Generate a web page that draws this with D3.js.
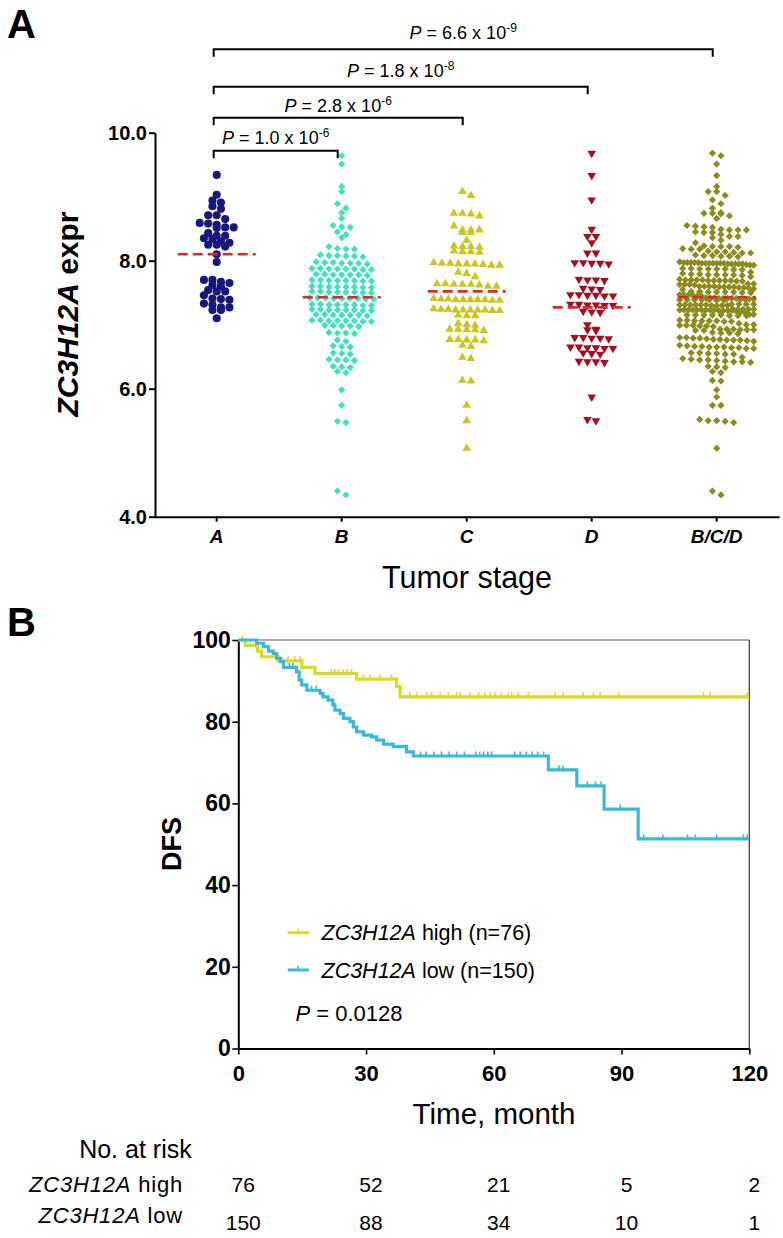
<!DOCTYPE html>
<html><head><meta charset="utf-8">
<script src="https://cdn.jsdelivr.net/npm/d3@7"></script>
<style>
body{margin:0;background:#fff;}
svg{display:block;font-family:"Liberation Sans",Arial,Helvetica,sans-serif;}
</style></head><body>
<svg id="c" width="783" height="1238"></svg>
<script>
// ---------------- DATA ----------------
const stages = ["A","B","C","D","B/C/D"];
const exprA = [9.34,9.03,8.94,8.91,8.85,8.81,8.71,8.71,8.65,8.59,8.58,8.56,8.52,8.51,8.52,8.43,8.39,8.39,8.35,8.34,8.30,8.28,8.25,8.25,8.22,8.10,7.98,7.70,7.70,7.67,7.65,7.62,7.60,7.54,7.52,7.52,7.46,7.41,7.40,7.39,7.33,7.31,7.27,7.27,7.23,7.23,7.10];
const exprB = [9.64,9.51,9.16,9.08,8.89,8.82,8.75,8.66,8.55,8.53,8.52,8.45,8.41,8.36,
 8.22,8.19,8.18,8.18,
 8.09,8.08,8.07,8.07,8.06,8.08,
 7.98,7.97,7.96,7.96,7.95,7.96,7.97,
 7.88,7.87,7.87,7.86,7.87,7.88,7.86,7.87,
 7.79,7.78,7.78,7.77,7.78,7.79,7.78,
 7.70,7.69,7.69,7.68,7.69,7.70,7.69,7.68,
 7.60,7.59,7.59,7.58,7.59,7.60,7.59,7.58,
 7.52,7.51,7.51,7.50,7.51,7.52,7.51,7.50,
 7.42,7.41,7.41,7.40,7.41,7.42,7.41,7.40,7.42,
 7.32,7.31,7.31,7.30,7.31,7.32,7.31,7.30,
 7.24,7.23,7.23,7.22,7.23,7.24,7.23,7.22,
 7.16,7.15,7.15,7.14,7.15,7.16,7.15,
 7.07,7.06,7.06,7.05,7.06,7.07,7.06,7.05,
 6.99,6.98,6.97,6.98,6.99,
 6.88,6.87,6.87,6.86,
 6.76,6.74,
 6.67,6.66,6.65,
 6.56,6.55,6.54,
 6.46,6.45,6.44,6.45,
 6.35,6.34,6.33,
 6.27,6.25,
 5.98,5.74,5.49,5.47,4.40,4.34];
const exprC = [9.08,9.02,
 8.74,8.74,8.73,8.70,
 8.54,8.48,8.48,8.48,8.44,8.44,
 8.32,
 8.23,8.22,8.21,8.22,
 8.15,8.14,8.13,8.14,
 7.96,7.95,7.94,7.93,7.95,7.96,7.95,7.97,7.93,
 7.82,7.80,7.75,
 7.64,7.63,7.63,7.62,7.63,7.64,7.60,7.60,
 7.40,7.39,7.39,7.38,7.39,7.40,7.39,7.38,7.39,7.41,
 7.24,7.23,7.23,7.22,7.23,7.24,7.23,7.22,7.23,7.25,
 7.15,7.14,7.14,
 7.02,7.00,6.99,
 6.93,6.92,6.91,6.92,6.93,
 6.77,6.76,6.75,6.76,6.77,
 6.68,6.66,
 6.49,6.47,
 6.13,6.12,
 5.74,5.50,5.07];
const exprD = [9.68,9.33,8.95,8.49,8.38,8.38,8.28,8.12,8.12,
 7.97,7.96,7.95,7.96,7.97,
 7.71,7.70,7.69,7.70,
 7.57,7.56,7.55,
 7.47,7.46,7.45,7.46,7.47,7.45,
 7.32,7.31,7.30,7.31,7.32,7.30,
 7.21,7.20,7.19,
 7.00,
 6.93,6.92,6.91,
 6.80,6.79,6.78,6.79,6.80,
 6.65,6.64,6.63,6.64,6.65,6.63,
 6.56,6.55,6.54,
 6.43,6.42,6.41,6.42,
 5.87,5.52,5.50];
const exprBCD = exprB.concat(exprC, exprD); // pooled stages B, C and D
const medians = [8.10,7.43,7.52,7.27,7.43];
const yTicksA = [4,6,8,10];
const compareTo = ["B","C","D","B/C/D"];
const pMantissa = ["1.0","2.8","1.8","6.6"];
const pExponent = ["-6","-6","-8","-9"];

// Kaplan-Meier (time in months, DFS %)
const highTimes = [0,1.7,4.5,5.5,9.4,14.9,18.0,27.8,37.2,38.0,120];
const highSurv  = [100,98.7,97.3,95.9,94.9,93.3,91.8,90.4,88.6,86.1,86.1];
const highCensor = [1.0,11.7,13.3,14.5,21.9,22.7,23.5,24.7,25.5,26.6,29.4,30.9,33.3,36.0,40.3,41.9,44.2,45.4,47.4,49.3,51.3,52.1,54.4,56.4,57.9,59.1,60.3,61.8,63.4,64.2,65.7,68.1,74.4,76.3,81.0,83.4,85.0,89.3,109.2,110.8,119.5];
const lowTimes = [0,4.3,5.9,7.1,8.2,9.0,9.9,10.6,13.7,14.3,14.9,16.1,19.2,19.9,21.1,22.2,22.7,23.9,24.7,26.2,27.0,27.8,29.4,31.3,32.5,34.1,36.4,39.5,41.1,72.8,79.5,85.9,93.9,120];
const lowSurv  = [100,99.2,98.4,97.3,96.7,95.5,94.7,93.3,92.2,90.2,89.0,87.7,86.9,86.1,85.3,84.1,82.8,82.0,80.8,80.0,78.7,77.5,76.7,76.3,75.5,74.5,73.9,72.6,71.6,68.2,64.3,58.6,51.3,51.3];
const lowCensor = [12.0,12.8,17.2,18.3,42.8,44.1,45.9,47.7,49.5,51.3,53.1,55.8,56.7,57.6,58.6,59.5,64.9,66.2,67.6,69.0,70.3,71.7,75.3,76.2,82.0,83.9,85.2,89.7,95.2,99.7,105.5,107.3,112.3,118.6,119.5];
const xTicksB = [0,30,60,90,120];
const yTicksB = [0,20,40,60,80,100];
const riskTimes = [0,30,60,90,120];
const riskHigh = [76,52,21,5,2];
const riskLow = [150,88,34,10,1];
const legendLabels = [" high (n=76)"," low (n=150)"];
const pLogRank = "0.0128";

// ---------------- DRAW ----------------
const svg = d3.select("#c");
const colA = ["#17177c","#40e2bc","#cbc61e","#a30f20","#8c8b1b"];
const kmHigh = "#d6dc1e", kmLow = "#38b9d8";

// panel labels
svg.append("text").attr("x",7).attr("y",38).attr("font-size",40).attr("font-weight","bold").text("A");
svg.append("text").attr("x",7).attr("y",636).attr("font-size",40).attr("font-weight","bold").text("B");

// ===== Panel A =====
const xA = d3.scaleBand().domain(stages).range([154.2,779.2]);
const yA = d3.scaleLinear().domain([4,10]).range([516.7,132.7]);
const cx = s => xA(s) + xA.bandwidth()/2;

const gyA = svg.append("g").attr("transform","translate(155,0)")
  .call(d3.axisLeft(yA).tickValues(yTicksA).tickFormat(d3.format(".1f")).tickSize(6).tickSizeOuter(0).tickPadding(2));
gyA.select(".domain").attr("stroke","#000").attr("stroke-width",2);
gyA.selectAll(".tick line").attr("stroke","#000").attr("stroke-width",2);
gyA.selectAll(".tick text").attr("font-size",20).attr("font-weight","bold").attr("fill","#000")
  .attr("font-family",'"Liberation Sans",Arial,sans-serif');

const gxA = svg.append("g").attr("transform","translate(0,516.7)")
  .call(d3.axisBottom(xA).tickSize(5).tickSizeOuter(0).tickPadding(8));
gxA.select(".domain").attr("stroke","#000").attr("stroke-width",2);
gxA.selectAll(".tick line").attr("stroke","#000").attr("stroke-width",2);
gxA.selectAll(".tick text").attr("font-size",19).attr("font-weight","bold").attr("font-style","italic").attr("fill","#000")
  .attr("font-family",'"Liberation Sans",Arial,sans-serif');

svg.append("text").attr("x",467).attr("y",588).attr("text-anchor","middle").attr("font-size",30.5).text("Tumor stage");

const yt = svg.append("text").attr("transform","translate(78,314) rotate(-90)").attr("text-anchor","middle")
  .attr("font-size",30).attr("font-weight","bold");
yt.append("tspan").attr("font-style","italic").text("ZC3H12A");
yt.append("tspan").text(" expr");

// swarm layout
function swarm(vals, c, maxWidth, spacing){
  const sorted = vals.slice().sort((a,b)=>b-a);
  const rows=[]; let cur=null;
  sorted.forEach(v=>{
    if(!cur || (yA(v)-yA(cur[0]))>4.5){cur=[v];rows.push(cur);} else cur.push(v);
  });
  const pts=[];
  rows.forEach(r=>{
    const n=r.length;
    const sp = n>1 ? Math.min(spacing, maxWidth/(n-1)) : 0;
    r.forEach((v,i)=>pts.push({v, x:c+(i-(n-1)/2)*sp}));
  });
  return pts;
}
const groups = [exprA, exprB, exprC, exprD, exprBCD];
const maxW = [46,64,66,46,74];
const shapes = [
  d3.symbol().type(d3.symbolCircle).size(52)(),
  d3.symbol().type(d3.symbolSquare).size(26)(),
  d3.symbol().type(d3.symbolTriangle).size(32)(),
  d3.symbol().type(d3.symbolTriangle).size(32)(),
  d3.symbol().type(d3.symbolSquare).size(26)()
];
const rot = [0,45,0,180,45];
groups.forEach((vals,gi)=>{
  const pts = swarm(vals, cx(stages[gi]), maxW[gi], 8.5);
  svg.append("g").selectAll("path").data(pts).join("path")
    .attr("d", shapes[gi])
    .attr("transform", d=>`translate(${d.x},${yA(d.v)}) rotate(${rot[gi]})`)
    .attr("fill", colA[gi]);
});
// medians
svg.append("g").selectAll("line").data(medians).join("line")
  .attr("x1",(d,i)=>cx(stages[i])-39).attr("x2",(d,i)=>cx(stages[i])+39)
  .attr("y1",d=>yA(d)).attr("y2",d=>yA(d))
  .attr("stroke","#e3262e").attr("stroke-width",2.6).attr("stroke-dasharray","10,5");

// significance brackets
const brY = [150.7,117.7,86.7,49.3];
const lbY = [144,111.7,77.3,39.3];
compareTo.forEach((s,i)=>{
  const x1 = cx("A")-3, x2 = cx(s)-4;
  svg.append("path").attr("d",`M${x1},${brY[i]+7.5}V${brY[i]}H${x2}V${brY[i]+7.5}`)
    .attr("fill","none").attr("stroke","#000").attr("stroke-width",2);
  const t = svg.append("text").attr("x",(x1+x2)/2).attr("y",lbY[i]).attr("text-anchor","middle").attr("font-size",18);
  t.append("tspan").attr("font-style","italic").text("P");
  t.append("tspan").text(" = "+pMantissa[i]+" x 10");
  t.append("tspan").attr("font-size",12).attr("dy",-7).text(pExponent[i]);
});

// ===== Panel B =====
const xB = d3.scaleLinear().domain([0,120]).range([238.3,749.3]);
const yB = d3.scaleLinear().domain([0,100]).range([1048.5,640]);

svg.append("line").attr("x1",xB(0)).attr("x2",xB(120)).attr("y1",yB(100)).attr("y2",yB(100)).attr("stroke","#555").attr("stroke-width",1.2);
svg.append("line").attr("x1",xB(120)).attr("x2",xB(120)).attr("y1",yB(100)).attr("y2",yB(0)).attr("stroke","#333").attr("stroke-width",1.2);

const gyB = svg.append("g").attr("transform",`translate(${xB(0)},0)`)
  .call(d3.axisLeft(yB).tickValues(yTicksB).tickSize(6).tickSizeOuter(0).tickPadding(1.5));
gyB.select(".domain").attr("stroke","#000").attr("stroke-width",2);
gyB.selectAll(".tick line").attr("stroke","#000").attr("stroke-width",1.6);
gyB.selectAll(".tick text").attr("font-size",23).attr("font-weight","bold").attr("fill","#000")
  .attr("font-family",'"Liberation Sans",Arial,sans-serif');

const gxB = svg.append("g").attr("transform",`translate(0,${yB(0)})`)
  .call(d3.axisBottom(xB).tickValues(xTicksB).tickSize(6).tickSizeOuter(0).tickPadding(10.5));
gxB.select(".domain").attr("stroke","#000").attr("stroke-width",2);
gxB.selectAll(".tick line").attr("stroke","#000").attr("stroke-width",1.6);
gxB.selectAll(".tick text").attr("font-size",22).attr("font-weight","bold").attr("fill","#000")
  .attr("font-family",'"Liberation Sans",Arial,sans-serif');

svg.append("text").attr("transform","translate(181,844) rotate(-90)").attr("text-anchor","middle")
  .attr("font-size",27).attr("font-weight","bold").text("DFS");
svg.append("text").attr("x",494).attr("y",1124).attr("text-anchor","middle").attr("font-size",29.5).text("Time, month");

const line = d3.line().x(d=>xB(d.t)).y(d=>yB(d.s)).curve(d3.curveStepAfter);
function km(times, surv, cens, color){
  const pts = times.map((t,i)=>({t, s:surv[i]}));
  svg.append("path").attr("d",line(pts)).attr("fill","none").attr("stroke",color).attr("stroke-width",3.2);
  const sAt = t => surv[d3.bisectRight(times,t)-1];
  svg.append("g").selectAll("line").data(cens).join("line")
    .attr("x1",d=>xB(d)).attr("x2",d=>xB(d))
    .attr("y1",d=>yB(sAt(d))).attr("y2",d=>yB(sAt(d))-4.5)
    .attr("stroke",color).attr("stroke-width",1.6);
}
km(highTimes, highSurv, highCensor, kmHigh);
km(lowTimes, lowSurv, lowCensor, kmLow);

// legend
[kmHigh, kmLow].forEach((c,i)=>{
  const y = 932.7 + i*37.3;
  svg.append("line").attr("x1",287.7).attr("x2",308.8).attr("y1",y).attr("y2",y).attr("stroke",c).attr("stroke-width",3);
  svg.append("line").attr("x1",298).attr("x2",298).attr("y1",y).attr("y2",y-4).attr("stroke",c).attr("stroke-width",1.6);
  const t = svg.append("text").attr("x",321.5).attr("y",y+7.5).attr("font-size",21.5);
  t.append("tspan").attr("font-style","italic").text("ZC3H12A");
  t.append("tspan").text(legendLabels[i]);
});
const pt = svg.append("text").attr("x",295.4).attr("y",1020.7).attr("font-size",22);
pt.append("tspan").attr("font-style","italic").text("P");
pt.append("tspan").text(" = "+pLogRank);

// risk table
svg.append("text").attr("x",191.7).attr("y",1158.3).attr("text-anchor","end").attr("font-size",25).text("No. at risk");
[["high",1191.7],["low",1223.3]].forEach(([lab,y])=>{
  const t = svg.append("text").attr("x",183).attr("y",y).attr("text-anchor","end").attr("font-size",22).attr("letter-spacing",0.8);
  t.append("tspan").attr("font-style","italic").text("ZC3H12A");
  t.append("tspan").text(" "+lab);
});
svg.append("g").selectAll("text").data(riskHigh).join("text")
  .attr("x",(d,i)=>xB(riskTimes[i])+5).attr("y",1191.7).attr("text-anchor","middle").attr("font-size",21).text(d=>d);
svg.append("g").selectAll("text").data(riskLow).join("text")
  .attr("x",(d,i)=>xB(riskTimes[i])+5).attr("y",1229.5).attr("text-anchor","middle").attr("font-size",21).text(d=>d);
</script>
</body></html>
